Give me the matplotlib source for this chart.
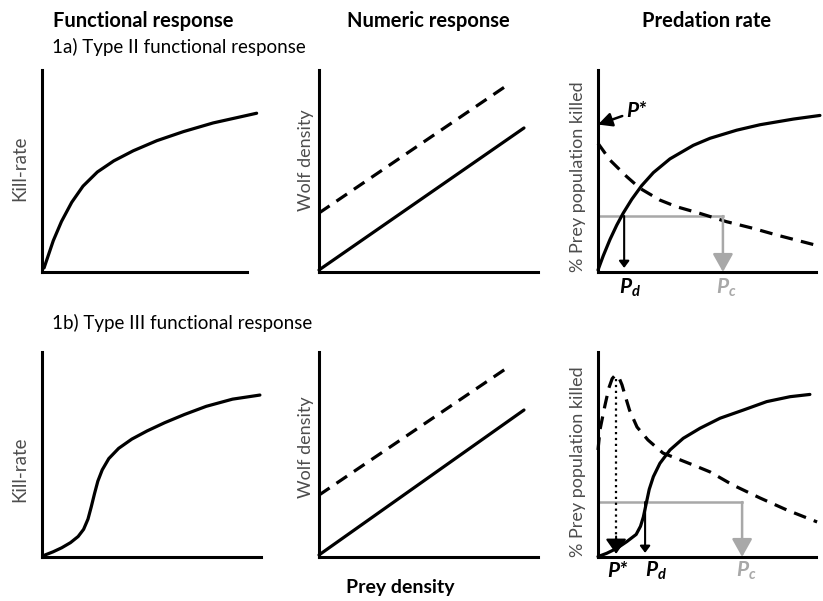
import matplotlib
matplotlib.use("Agg")
import matplotlib.pyplot as plt

plt.rcParams['font.family'] = 'Lato'
plt.rcParams['mathtext.fontset'] = 'custom'
plt.rcParams['mathtext.it'] = 'Lato:bold:italic'
plt.rcParams['mathtext.rm'] = 'Lato:bold'

# --- data (arbitrary units, axes run 0..10) ---
# 1a) Type II functional response
type2_prey = [0.1, 0.25, 0.55, 0.95, 1.45, 2.0, 2.7, 3.5, 4.45, 5.6, 6.9, 8.35, 9.5, 10.47]
type2_kill = [0.2, 0.65, 1.55, 2.5, 3.45, 4.25, 4.95, 5.5, 6.0, 6.5, 6.95, 7.38, 7.64, 7.86]

# 1b) Type III functional response
type3_prey = [0.14, 0.5, 0.9, 1.3, 1.65, 1.9, 2.1, 2.25, 2.4, 2.55, 2.75, 3.05, 3.5,
              4.1, 4.8, 5.6, 6.5, 7.5, 8.7, 9.95]
type3_kill = [0.10, 0.25, 0.45, 0.7, 1.0, 1.35, 1.85, 2.45, 3.1, 3.7, 4.25, 4.8, 5.3,
              5.75, 6.15, 6.55, 6.95, 7.35, 7.7, 7.9]

# numeric response (solid = wolves, dashed = shifted line)
num_top_prey = [0, 9.36]
num_top_wolf = [0.1, 7.13]
num_top_dash_prey = [0, 8.68]
num_top_dash_wolf = [2.92, 9.31]
num_bot_prey = [0, 9.36]
num_bot_wolf = [0.1, 7.17]
num_bot_dash_prey = [0, 8.72]
num_bot_dash_wolf = [3.02, 9.32]

# predation rate, type II
rate2_prey = [0, 0.24, 0.55, 0.86, 1.16, 1.55, 2.00, 2.54, 3.30, 4.37, 5.14, 6.36, 7.43, 8.96, 10.18]
rate2_kill = [0.1, 0.80, 1.61, 2.32, 2.92, 3.60, 4.27, 4.92, 5.60, 6.27, 6.62, 7.02, 7.29, 7.57, 7.75]
growth2_prey = [0, 0.55, 1.32, 1.93, 2.84, 3.61, 4.68, 5.90, 7.12, 8.20, 9.95]
growth2_rate = [6.37, 5.54, 4.72, 4.14, 3.56, 3.23, 2.90, 2.49, 2.16, 1.83, 1.34]
thr2 = 2.77
pd2 = 1.2
pc2 = 5.73
pstar2 = 7.3

# predation rate, type III
rate3_prey = [0, 0.40, 0.86, 1.32, 1.75, 1.95, 2.08, 2.20, 2.35, 2.54, 2.84, 3.30, 3.91,
              4.68, 5.60, 6.67, 7.74, 8.81, 9.72]
rate3_kill = [0.02, 0.18, 0.42, 0.75, 1.1, 1.5, 1.95, 2.55, 3.3, 3.92, 4.57, 5.22, 5.79,
              6.28, 6.77, 7.17, 7.58, 7.82, 7.93]
growth3_prey = [0, 0.09, 0.32, 0.5, 0.65, 0.8, 0.95, 1.1, 1.25, 1.45, 1.79, 2.29, 2.98,
                4.36, 5.14, 6.19, 7.43, 8.67, 10.05]
growth3_rate = [5.22, 6.20, 7.4, 8.25, 8.7, 8.88, 8.78, 8.4, 7.85, 7.15, 6.34, 5.71, 5.07,
                4.49, 4.15, 3.51, 2.88, 2.29, 1.71]
thr3 = 2.68
pd3 = 2.16
pc3 = 6.61
pstar3 = 0.83
pstar3_top = 8.7

W, H = 823, 601
fig = plt.figure(figsize=(W / 100, H / 100), dpi=100)
GRAY = '#a8a8a8'
LW = 2.3
DASH = (4, 2.6)


def place(x0, y0, x1, y1):
    ax = fig.add_axes([x0 / W, 1 - y1 / H, (x1 - x0) / W, (y1 - y0) / H])
    ax.set_xlim(0, 10)
    ax.set_ylim(0, 10)
    ax.set_xticks([])
    ax.set_yticks([])
    ax.patch.set_visible(False)
    for s in ['top', 'right']:
        ax.spines[s].set_visible(False)
    for s in ['left', 'bottom']:
        ax.spines[s].set_linewidth(2.2)
        ax.spines[s].set_capstyle('projecting')
    return ax


def curve(ax, x, y, dashed=False):
    kw = dict(color='black', lw=LW, clip_on=False, solid_capstyle='round',
              solid_joinstyle='round', dash_joinstyle='round')
    if dashed:
        ax.plot(x, y, dashes=DASH, **kw)
    else:
        ax.plot(x, y, **kw)


ax1 = place(42, 70, 247, 272)
ax2 = place(319, 70, 538, 272)
ax3 = place(598, 70, 816, 272)
ax4 = place(42, 352, 261, 557)
ax5 = place(319, 352, 538, 557)
ax6 = place(598, 352, 816, 557)

# functional responses
curve(ax1, type2_prey, type2_kill)
curve(ax4, type3_prey, type3_kill)

# numeric responses
curve(ax2, num_top_prey, num_top_wolf)
curve(ax2, num_top_dash_prey, num_top_dash_wolf, dashed=True)
curve(ax5, num_bot_prey, num_bot_wolf)
curve(ax5, num_bot_dash_prey, num_bot_dash_wolf, dashed=True)


def thresholds(ax, thr, pd, pc):
    ax.plot([0, pc], [thr, thr], color=GRAY, lw=1.8, clip_on=False, zorder=1)
    ax.annotate('', xy=(pc, 0), xytext=(pc, thr),
                arrowprops=dict(arrowstyle='-|>,head_length=0.5,head_width=0.28',
                                color=GRAY, lw=1.8, mutation_scale=22,
                                shrinkA=0, shrinkB=0))
    ax.annotate('', xy=(pd, 0.2), xytext=(pd, thr),
                arrowprops=dict(arrowstyle='-|>,head_length=0.4,head_width=0.3',
                                color='black', lw=1.5, mutation_scale=10,
                                shrinkA=0, shrinkB=0))


# predation rate, type II
thresholds(ax3, thr2, pd2, pc2)
curve(ax3, rate2_prey, rate2_kill)
curve(ax3, growth2_prey, growth2_rate, dashed=True)
ax3.annotate('P*', xy=(0, pstar2), xytext=(1.3, 7.97), fontsize=15,
             fontweight='bold', style='italic', va='center', ha='left',
             arrowprops=dict(arrowstyle='-|>,head_length=0.6,head_width=0.3',
                             color='black', lw=1.8, mutation_scale=14,
                             shrinkA=1, shrinkB=0))
ax3.text(pd2 + 0.25, -0.78, r'$P_d$', fontsize=15, ha='center', va='center')
ax3.text(pc2 + 0.14, -0.78, r'$P_c$', fontsize=15, ha='center', va='center', color=GRAY)

# predation rate, type III
thresholds(ax6, thr3, pd3, pc3)
curve(ax6, rate3_prey, rate3_kill)
curve(ax6, growth3_prey, growth3_rate, dashed=True)
ax6.plot([pstar3, pstar3], [pstar3_top, 0.9], color='black', lw=1.6, ls=':', clip_on=False)
ax6.annotate('', xy=(pstar3, 0.15), xytext=(pstar3, 1.0),
             arrowprops=dict(arrowstyle='-|>,head_length=0.5,head_width=0.35',
                             color='black', lw=1.5, mutation_scale=18,
                             shrinkA=0, shrinkB=0))
ax6.text(pstar3 + 0.05, -0.68, 'P*', fontsize=15, fontweight='bold', style='italic',
         ha='center', va='center')
ax6.text(pd3 + 0.5, -0.68, r'$P_d$', fontsize=15, ha='center', va='center')
ax6.text(pc3 + 0.18, -0.68, r'$P_c$', fontsize=15, ha='center', va='center', color=GRAY)

# column headers and panel titles
for xc, label in [(143, 'Functional response'), (428, 'Numeric response'), (707, 'Predation rate')]:
    fig.text(xc / W, 1 - 21 / H, label, fontsize=14.5, fontweight='bold',
             ha='center', va='center')
fig.text(52 / W, 1 - 47 / H, '1a) Type II functional response', fontsize=13.5,
         ha='left', va='center')
fig.text(52 / W, 1 - 323 / H, '1b) Type III functional response', fontsize=13.5,
         ha='left', va='center')
fig.text(400 / W, 1 - 587 / H, 'Prey density', fontsize=14, fontweight='bold',
         ha='center', va='center')

# y labels
YCOL = '#4d4d4d'
for xp, yp, label, fs in [(20, 168, 'Kill-rate', 13.5), (20, 469, 'Kill-rate', 13.5),
                          (306, 160, 'Wolf density', 13), (306, 447, 'Wolf density', 13),
                          (578, 177, '% Prey population killed', 13),
                          (578, 462, '% Prey population killed', 13)]:
    fig.text(xp / W, 1 - yp / H, label, fontsize=fs, rotation=90, color=YCOL,
             ha='center', va='center')

fig.savefig('out.png', dpi=100)
